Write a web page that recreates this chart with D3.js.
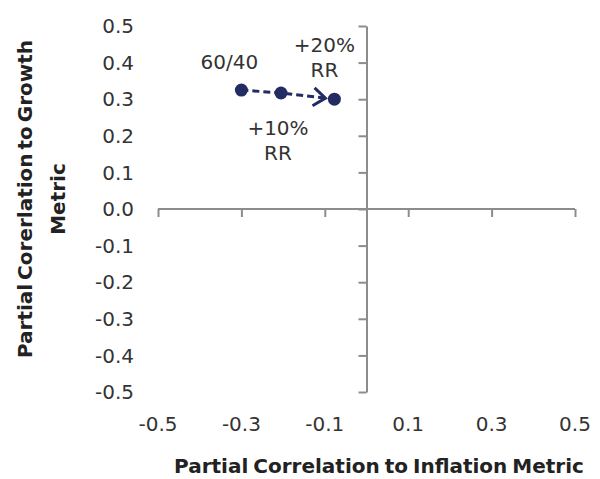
<!DOCTYPE html>
<html>
<head>
<meta charset="utf-8">
<script src="https://cdn.jsdelivr.net/npm/d3@7"></script>
<style>
  body { margin: 0; background: #fff; }
  text { font-family: "DejaVu Sans", "Liberation Sans", Arial, sans-serif; fill: #222; }
</style>
</head>
<body>
<div id="chart"></div>
<script>
// data
const names = ["60/40", "+10% RR", "+20% RR"];
const inflationCorr = [-0.30, -0.205, -0.077];
const growthCorr = [0.325, 0.317, 0.30];
const xTicks = [-0.5, -0.3, -0.1, 0.1, 0.3, 0.5];
const yTicks = [0.5, 0.4, 0.3, 0.2, 0.1, 0.0, -0.1, -0.2, -0.3, -0.4, -0.5];

const width = 600, height = 479;
const navy = "#222c63", axisGrey = "#8c8c8c";

const svg = d3.select("#chart")
  .append("svg")
  .attr("width", width)
  .attr("height", height);

const x = d3.scaleLinear().domain([-0.5, 0.5]).range([158, 575]);
const y = d3.scaleLinear().domain([-0.5, 0.5]).range([392, 26]);

const points = names.map((n, i) => ({ name: n, x: inflationCorr[i], y: growthCorr[i] }));

// x axis through y = 0, ticks down
svg.append("g")
  .attr("transform", `translate(0, ${y(0)})`)
  .call(d3.axisBottom(x).tickValues(xTicks).tickSize(8).tickSizeOuter(0).tickFormat(() => ""))
  .call(g => g.selectAll("line, path").attr("stroke", axisGrey).attr("stroke-width", 2))
  .call(g => g.select(".domain").attr("d", `M${x(-0.5)},0H${x(0.5)}`));

// y axis through x = 0, ticks left
svg.append("g")
  .attr("transform", `translate(${x(0)}, 0)`)
  .call(d3.axisLeft(y).tickValues(yTicks).tickSize(8).tickSizeOuter(0).tickFormat(() => ""))
  .call(g => g.selectAll("line, path").attr("stroke", axisGrey).attr("stroke-width", 2));

const fmt = d => d3.format(".1f")(d).replace("−", "-");

// tick labels sit at the chart edges
svg.append("g").selectAll("text")
  .data(xTicks)
  .enter()
  .append("text")
  .attr("x", d => x(d))
  .attr("y", 431)
  .attr("text-anchor", "middle")
  .style("font-size", "20px")
  .style("fill", "#333")
  .text(fmt);

svg.append("g").selectAll("text")
  .data(yTicks)
  .enter()
  .append("text")
  .attr("x", 134)
  .attr("y", d => y(d))
  .attr("dy", "0.36em")
  .attr("text-anchor", "end")
  .style("font-size", "20px")
  .style("fill", "#333")
  .text(fmt);

// axis titles
svg.append("text")
  .attr("x", 379)
  .attr("y", 473)
  .attr("text-anchor", "middle")
  .style("font-size", "20px")
  .style("font-weight", "bold")
  .style("word-spacing", "-2px")
  .text("Partial Correlation to Inflation Metric");

const yTitle = svg.append("text")
  .attr("transform", "translate(32, 199) rotate(-90)")
  .attr("text-anchor", "middle")
  .style("font-size", "20px")
  .style("font-weight", "bold")
  .style("word-spacing", "-3px");
yTitle.append("tspan").attr("x", 0).attr("dy", 0).text("Partial Corerlation to Growth");
yTitle.append("tspan").attr("x", 0).attr("dy", 33).text("Metric");

// open arrow head a little short of the last point
svg.append("defs").append("marker")
  .attr("id", "arrow")
  .attr("viewBox", "0 0 24 20")
  .attr("refX", 22)
  .attr("refY", 10)
  .attr("markerUnits", "userSpaceOnUse")
  .attr("markerWidth", 24)
  .attr("markerHeight", 20)
  .attr("orient", "auto")
  .append("path")
  .attr("d", "M1,1L13,10L1,19")
  .attr("fill", "none")
  .attr("stroke", navy)
  .attr("stroke-width", 3);

svg.append("path")
  .datum(points)
  .attr("d", d3.line().x(d => x(d.x)).y(d => y(d.y)))
  .attr("fill", "none")
  .attr("stroke", navy)
  .attr("stroke-width", 3)
  .attr("stroke-dasharray", "7,4")
  .attr("marker-end", "url(#arrow)");

svg.selectAll("circle.pt")
  .data(points)
  .enter()
  .append("circle")
  .attr("class", "pt")
  .attr("cx", d => x(d.x))
  .attr("cy", d => y(d.y))
  .attr("r", 6.5)
  .attr("fill", navy);

// point labels
const labelPos = [
  { dx: -12, dy: -21, lines: ["60/40"] },
  { dx: -3, dy: 42, lines: ["+10%", "RR"] },
  { dx: -10, dy: -47, lines: ["+20%", "RR"] }
];
points.forEach((p, i) => {
  const t = svg.append("text")
    .attr("x", x(p.x) + labelPos[i].dx)
    .attr("y", y(p.y) + labelPos[i].dy)
    .attr("text-anchor", "middle")
    .style("font-size", "20px")
    .style("fill", "#333");
  labelPos[i].lines.forEach((l, j) => {
    t.append("tspan")
      .attr("x", x(p.x) + labelPos[i].dx)
      .attr("dy", j === 0 ? 0 : 25)
      .text(l);
  });
});
</script>
</body>
</html>
